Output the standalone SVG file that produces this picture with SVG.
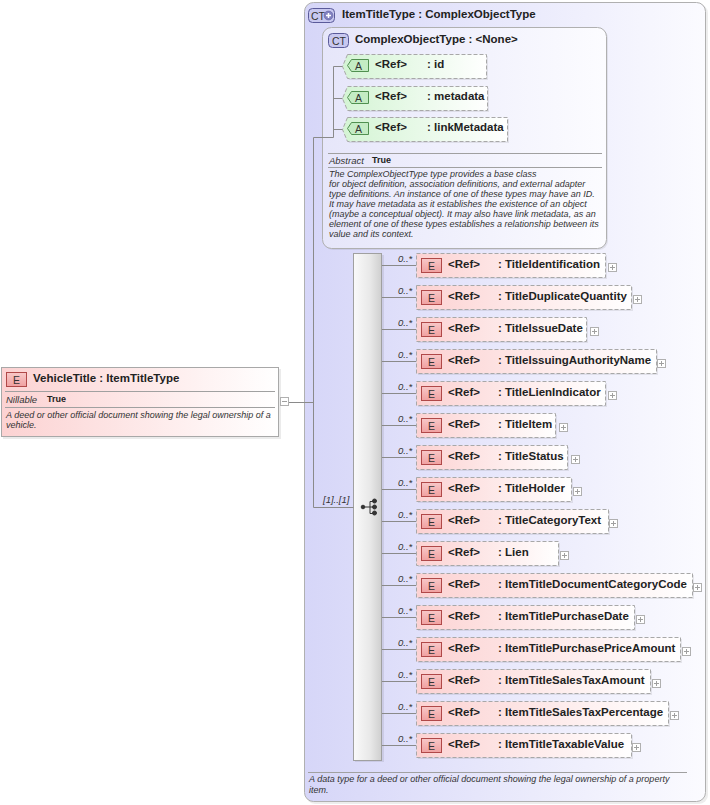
<svg xmlns="http://www.w3.org/2000/svg" width="710" height="805" viewBox="0 0 710 805">
<defs>
<linearGradient id="gOuter" x1="0" y1="0" x2="1" y2="0"><stop offset="0" stop-color="#d6d6f8"/><stop offset="1" stop-color="#fbfbff"/></linearGradient>
<linearGradient id="gInner" x1="0" y1="0" x2="1" y2="0"><stop offset="0" stop-color="#e6e6fa"/><stop offset="1" stop-color="#fcfcff"/></linearGradient>
<linearGradient id="gPink" x1="0" y1="0" x2="1" y2="0"><stop offset="0" stop-color="#fcd2d2"/><stop offset="1" stop-color="#ffffff"/></linearGradient>
<linearGradient id="gGreen" x1="0" y1="0" x2="1" y2="0"><stop offset="0" stop-color="#d4f4d4"/><stop offset="1" stop-color="#ffffff"/></linearGradient>
<linearGradient id="gSeq" x1="0" y1="0" x2="1" y2="0"><stop offset="0" stop-color="#fafafa"/><stop offset="0.6" stop-color="#e8e8e8"/><stop offset="1" stop-color="#cfcfcf"/></linearGradient>
<linearGradient id="gEbadge" x1="0" y1="0" x2="0" y2="1"><stop offset="0" stop-color="#f8c8c8"/><stop offset="1" stop-color="#f0a0a0"/></linearGradient>
</defs>
<style>
text{font-family:"Liberation Sans",Arial,sans-serif;}
.t{font-size:11.5px;font-weight:bold;fill:#222;}
.ref{font-size:11.5px;font-weight:bold;fill:#222;}
.d{font-size:9px;font-style:italic;fill:#333;}
.m{font-size:9.5px;font-style:italic;fill:#333;}
.b{font-size:9px;font-weight:bold;fill:#222;}
.badge{font-size:10.5px;fill:#333;}
.el{fill:url(#gPink);stroke:#a8a8a8;stroke-dasharray:4,2;}
.sh{fill:#000;opacity:0.08;}
.eb{fill:url(#gEbadge);stroke:#b04848;stroke-width:1;}
.ab{fill:#c4ecc4;stroke:#509050;}
.cn{stroke:#8a8a8a;stroke-width:1;fill:none;}
.exp{fill:#fff;stroke:#b0b0b0;}
.expl{stroke:#a0a0a0;}
.sep{stroke:#a0a0a0;}
</style>

<g id="ItemTitleType">
<rect x="306" y="4" width="402" height="800" rx="9" fill="#000" opacity="0.07"/>
<rect x="304.5" y="2.5" width="401" height="799" rx="9" fill="url(#gOuter)" stroke="#b0b0b0"/>
<rect x="308.5" y="8.5" width="26" height="14" rx="4" fill="#c8c8f0" stroke="#5a5a9a"/>
<text x="311" y="19.5" class="badge">CT</text>
<circle cx="328.5" cy="15.5" r="4.5" fill="#8080c0" stroke="#5a5a9a" stroke-width="0.5"/>
<path d="M326 15.5h5M328.5 13v5" stroke="#fff" stroke-width="1.5"/>
<text x="342" y="18" class="t">ItemTitleType : ComplexObjectType</text>
<line x1="308" y1="772.5" x2="687" y2="772.5" class="sep"/>
<text x="309" y="782" class="d">A data type for a deed or other official document showing the legal ownership of a property</text>
<text x="309" y="793" class="d">item.</text>
</g>

<g id="ComplexObjectType">
<rect x="324" y="29" width="284" height="221" rx="9" fill="#000" opacity="0.07"/>
<rect x="322.5" y="27.5" width="284" height="221" rx="9" fill="url(#gInner)" stroke="#b0b0b0"/>
<rect x="328.5" y="33.5" width="20" height="14" rx="4" fill="#c8c8f0" stroke="#5a5a9a"/>
<text x="332" y="44.5" class="badge">CT</text>
<text x="355" y="43" class="t">ComplexObjectType : &lt;None&gt;</text>
<line x1="328" y1="153.5" x2="602" y2="153.5" class="sep"/>
<text x="329" y="164" class="m">Abstract</text>
<text x="372" y="163" class="b">True</text>
<line x1="328" y1="167.5" x2="602" y2="167.5" class="sep"/>
<text class="d">
<tspan x="329" y="177">The ComplexObjectType type provides a base class</tspan>
<tspan x="329" y="187">for object definition, association definitions, and external adapter</tspan>
<tspan x="329" y="197">type definitions. An instance of one of these types may have an ID.</tspan>
<tspan x="329" y="207">It may have metadata as it establishes the existence of an object</tspan>
<tspan x="329" y="217">(maybe a conceptual object). It may also have link metadata, as an</tspan>
<tspan x="329" y="227">element of one of these types establishes a relationship between its</tspan>
<tspan x="329" y="237">value and its context.</tspan>
</text>
</g>

<g id="attr-id">
<polygon points="349,56 488,56 488,80 349,80 344,68" class="sh"/>
<polygon points="347.5,54.5 486.5,54.5 486.5,78.5 347.5,78.5 342.5,66.5" fill="url(#gGreen)" stroke="#a8a8a8" stroke-dasharray="4,2"/>
<path d="M351.5 59.5h17v12h-17l-4-6z" class="ab"/>
<text x="355" y="69.5" class="badge">A</text>
<text x="375" y="68" class="ref">&lt;Ref&gt;</text>
<text x="427" y="68" class="ref">: id</text>
</g>
<g id="attr-metadata">
<polygon points="349,88 489,88 489,112 349,112 344,100" class="sh"/>
<polygon points="347.5,86.5 487.5,86.5 487.5,110.5 347.5,110.5 342.5,98.5" fill="url(#gGreen)" stroke="#a8a8a8" stroke-dasharray="4,2"/>
<path d="M351.5 91.5h17v12h-17l-4-6z" class="ab"/>
<text x="355" y="101.5" class="badge">A</text>
<text x="375" y="100" class="ref">&lt;Ref&gt;</text>
<text x="427" y="100" class="ref">: metadata</text>
</g>
<g id="attr-linkMetadata">
<polygon points="349,119 509,119 509,143 349,143 344,131" class="sh"/>
<polygon points="347.5,117.5 507.5,117.5 507.5,141.5 347.5,141.5 342.5,129.5" fill="url(#gGreen)" stroke="#a8a8a8" stroke-dasharray="4,2"/>
<path d="M351.5 122.5h17v12h-17l-4-6z" class="ab"/>
<text x="355" y="132.5" class="badge">A</text>
<text x="375" y="131" class="ref">&lt;Ref&gt;</text>
<text x="427" y="131" class="ref">: linkMetadata</text>
</g>

<g id="VehicleTitle">
<rect x="3" y="369" width="278" height="70" fill="#000" opacity="0.08"/>
<rect x="1.5" y="367.5" width="277" height="69" fill="url(#gPink)" stroke="#a8a8a8"/>
<rect x="6.5" y="372.5" width="20" height="14" class="eb"/>
<text x="13" y="383.5" class="badge">E</text>
<text x="33" y="382" class="t">VehicleTitle : ItemTitleType</text>
<line x1="5" y1="391.5" x2="275" y2="391.5" class="sep"/>
<text x="6" y="403" class="m">Nillable</text>
<text x="47" y="402" class="b">True</text>
<line x1="5" y1="407.5" x2="275" y2="407.5" class="sep"/>
<text x="6" y="418" class="d">A deed or other official document showing the legal ownership of a</text>
<text x="6" y="428" class="d">vehicle.</text>
<rect x="280.5" y="397.5" width="8" height="8" class="exp"/>
<line x1="282" y1="401.5" x2="287" y2="401.5" class="expl"/>
</g>

<g id="sequence">
<rect x="355" y="255" width="29" height="507" fill="#000" opacity="0.08"/>
<rect x="353.5" y="253.5" width="28" height="507" fill="url(#gSeq)" stroke="#a0a0a0"/>
<g fill="#333" stroke="#333">
<circle cx="363" cy="507" r="1.8"/>
<line x1="363" y1="507" x2="370" y2="507"/>
<path d="M370 501.5v12M370 501.5h4M370 507h4M370 513.5h4" fill="none"/>
<circle cx="374.5" cy="501" r="2"/>
<circle cx="374.5" cy="507" r="2"/>
<circle cx="374.5" cy="513" r="2"/>
</g>
<text x="323" y="503" class="m">[1]..[1]</text>
</g>

<g id="connectors">
<path d="M289 402.5h24.5" class="cn"/>
<path d="M313.5 137.5V507.5" class="cn"/>
<path d="M313.5 137.5h20" class="cn"/>
<path d="M333.5 66.5V137.5" class="cn"/>
<path d="M333.5 66.5h9M333.5 98.5h9M333.5 129.5h9" class="cn"/>
<path d="M313.5 507.5h40" class="cn"/>
<path d="M382 265.5h34M382 297.5h34M382 329.5h34M382 361.5h34M382 393.5h34M382 425.5h34M382 457.5h34M382 489.5h34M382 521.5h34M382 553.5h34M382 585.5h34M382 617.5h34M382 649.5h34M382 681.5h34M382 713.5h34M382 745.5h34" class="cn"/>
</g>

<g id="elements">
<g id="e0" transform="translate(0,265)">
<rect x="418" y="-10" width="189" height="24" class="sh"/><rect x="416.5" y="-11.5" width="189" height="24" class="el"/>
<rect x="421.5" y="-6.5" width="20" height="14" class="eb"/><text x="428" y="4.5" class="badge">E</text>
<text x="448" y="3" class="ref">&lt;Ref&gt;</text><text x="498" y="3" class="ref">: TitleIdentification</text>
<rect x="608.5" y="-1.5" width="8" height="8" class="exp"/><path d="M610 2.5h5M612.5 0v5" class="expl"/>
</g>
<g id="e1" transform="translate(0,297)">
<rect x="418" y="-10" width="215" height="24" class="sh"/><rect x="416.5" y="-11.5" width="215" height="24" class="el"/>
<rect x="421.5" y="-6.5" width="20" height="14" class="eb"/><text x="428" y="4.5" class="badge">E</text>
<text x="448" y="3" class="ref">&lt;Ref&gt;</text><text x="498" y="3" class="ref">: TitleDuplicateQuantity</text>
<rect x="633.5" y="-1.5" width="8" height="8" class="exp"/><path d="M635 2.5h5M637.5 0v5" class="expl"/>
</g>
<g id="e2" transform="translate(0,329)">
<rect x="418" y="-10" width="170" height="24" class="sh"/><rect x="416.5" y="-11.5" width="170" height="24" class="el"/>
<rect x="421.5" y="-6.5" width="20" height="14" class="eb"/><text x="428" y="4.5" class="badge">E</text>
<text x="448" y="3" class="ref">&lt;Ref&gt;</text><text x="498" y="3" class="ref">: TitleIssueDate</text>
<rect x="590.5" y="-1.5" width="8" height="8" class="exp"/><path d="M592 2.5h5M594.5 0v5" class="expl"/>
</g>
<g id="e3" transform="translate(0,361)">
<rect x="418" y="-10" width="240" height="24" class="sh"/><rect x="416.5" y="-11.5" width="240" height="24" class="el"/>
<rect x="421.5" y="-6.5" width="20" height="14" class="eb"/><text x="428" y="4.5" class="badge">E</text>
<text x="448" y="3" class="ref">&lt;Ref&gt;</text><text x="498" y="3" class="ref">: TitleIssuingAuthorityName</text>
<rect x="657.5" y="-1.5" width="8" height="8" class="exp"/><path d="M659 2.5h5M661.5 0v5" class="expl"/>
</g>
<g id="e4" transform="translate(0,393)">
<rect x="418" y="-10" width="189" height="24" class="sh"/><rect x="416.5" y="-11.5" width="189" height="24" class="el"/>
<rect x="421.5" y="-6.5" width="20" height="14" class="eb"/><text x="428" y="4.5" class="badge">E</text>
<text x="448" y="3" class="ref">&lt;Ref&gt;</text><text x="498" y="3" class="ref">: TitleLienIndicator</text>
<rect x="608.5" y="-1.5" width="8" height="8" class="exp"/><path d="M610 2.5h5M612.5 0v5" class="expl"/>
</g>
<g id="e5" transform="translate(0,425)">
<rect x="418" y="-10" width="139" height="24" class="sh"/><rect x="416.5" y="-11.5" width="139" height="24" class="el"/>
<rect x="421.5" y="-6.5" width="20" height="14" class="eb"/><text x="428" y="4.5" class="badge">E</text>
<text x="448" y="3" class="ref">&lt;Ref&gt;</text><text x="498" y="3" class="ref">: TitleItem</text>
<rect x="559.5" y="-1.5" width="8" height="8" class="exp"/><path d="M561 2.5h5M563.5 0v5" class="expl"/>
</g>
<g id="e6" transform="translate(0,457)">
<rect x="418" y="-10" width="151" height="24" class="sh"/><rect x="416.5" y="-11.5" width="151" height="24" class="el"/>
<rect x="421.5" y="-6.5" width="20" height="14" class="eb"/><text x="428" y="4.5" class="badge">E</text>
<text x="448" y="3" class="ref">&lt;Ref&gt;</text><text x="498" y="3" class="ref">: TitleStatus</text>
<rect x="571.5" y="-1.5" width="8" height="8" class="exp"/><path d="M573 2.5h5M575.5 0v5" class="expl"/>
</g>
<g id="e7" transform="translate(0,489)">
<rect x="418" y="-10" width="155" height="24" class="sh"/><rect x="416.5" y="-11.5" width="155" height="24" class="el"/>
<rect x="421.5" y="-6.5" width="20" height="14" class="eb"/><text x="428" y="4.5" class="badge">E</text>
<text x="448" y="3" class="ref">&lt;Ref&gt;</text><text x="498" y="3" class="ref">: TitleHolder</text>
<rect x="573.5" y="-1.5" width="8" height="8" class="exp"/><path d="M575 2.5h5M577.5 0v5" class="expl"/>
</g>
<g id="e8" transform="translate(0,521)">
<rect x="418" y="-10" width="192" height="24" class="sh"/><rect x="416.5" y="-11.5" width="192" height="24" class="el"/>
<rect x="421.5" y="-6.5" width="20" height="14" class="eb"/><text x="428" y="4.5" class="badge">E</text>
<text x="448" y="3" class="ref">&lt;Ref&gt;</text><text x="498" y="3" class="ref">: TitleCategoryText</text>
<rect x="609.5" y="-1.5" width="8" height="8" class="exp"/><path d="M611 2.5h5M613.5 0v5" class="expl"/>
</g>
<g id="e9" transform="translate(0,553)">
<rect x="418" y="-10" width="142" height="24" class="sh"/><rect x="416.5" y="-11.5" width="142" height="24" class="el"/>
<rect x="421.5" y="-6.5" width="20" height="14" class="eb"/><text x="428" y="4.5" class="badge">E</text>
<text x="448" y="3" class="ref">&lt;Ref&gt;</text><text x="498" y="3" class="ref">: Lien</text>
<rect x="560.5" y="-1.5" width="8" height="8" class="exp"/><path d="M562 2.5h5M564.5 0v5" class="expl"/>
</g>
<g id="e10" transform="translate(0,585)">
<rect x="418" y="-10" width="276" height="24" class="sh"/><rect x="416.5" y="-11.5" width="276" height="24" class="el"/>
<rect x="421.5" y="-6.5" width="20" height="14" class="eb"/><text x="428" y="4.5" class="badge">E</text>
<text x="448" y="3" class="ref">&lt;Ref&gt;</text><text x="498" y="3" class="ref">: ItemTitleDocumentCategoryCode</text>
<rect x="693.5" y="-1.5" width="8" height="8" class="exp"/><path d="M695 2.5h5M697.5 0v5" class="expl"/>
</g>
<g id="e11" transform="translate(0,617)">
<rect x="418" y="-10" width="218" height="24" class="sh"/><rect x="416.5" y="-11.5" width="218" height="24" class="el"/>
<rect x="421.5" y="-6.5" width="20" height="14" class="eb"/><text x="428" y="4.5" class="badge">E</text>
<text x="448" y="3" class="ref">&lt;Ref&gt;</text><text x="498" y="3" class="ref">: ItemTitlePurchaseDate</text>
<rect x="636.5" y="-1.5" width="8" height="8" class="exp"/><path d="M638 2.5h5M640.5 0v5" class="expl"/>
</g>
<g id="e12" transform="translate(0,649)">
<rect x="418" y="-10" width="264" height="24" class="sh"/><rect x="416.5" y="-11.5" width="264" height="24" class="el"/>
<rect x="421.5" y="-6.5" width="20" height="14" class="eb"/><text x="428" y="4.5" class="badge">E</text>
<text x="448" y="3" class="ref">&lt;Ref&gt;</text><text x="498" y="3" class="ref">: ItemTitlePurchasePriceAmount</text>
<rect x="682.5" y="-1.5" width="8" height="8" class="exp"/><path d="M684 2.5h5M686.5 0v5" class="expl"/>
</g>
<g id="e13" transform="translate(0,681)">
<rect x="418" y="-10" width="234" height="24" class="sh"/><rect x="416.5" y="-11.5" width="234" height="24" class="el"/>
<rect x="421.5" y="-6.5" width="20" height="14" class="eb"/><text x="428" y="4.5" class="badge">E</text>
<text x="448" y="3" class="ref">&lt;Ref&gt;</text><text x="498" y="3" class="ref">: ItemTitleSalesTaxAmount</text>
<rect x="652.5" y="-1.5" width="8" height="8" class="exp"/><path d="M654 2.5h5M656.5 0v5" class="expl"/>
</g>
<g id="e14" transform="translate(0,713)">
<rect x="418" y="-10" width="252" height="24" class="sh"/><rect x="416.5" y="-11.5" width="252" height="24" class="el"/>
<rect x="421.5" y="-6.5" width="20" height="14" class="eb"/><text x="428" y="4.5" class="badge">E</text>
<text x="448" y="3" class="ref">&lt;Ref&gt;</text><text x="498" y="3" class="ref">: ItemTitleSalesTaxPercentage</text>
<rect x="670.5" y="-1.5" width="8" height="8" class="exp"/><path d="M672 2.5h5M674.5 0v5" class="expl"/>
</g>
<g id="e15" transform="translate(0,745)">
<rect x="418" y="-10" width="215" height="24" class="sh"/><rect x="416.5" y="-11.5" width="215" height="24" class="el"/>
<rect x="421.5" y="-6.5" width="20" height="14" class="eb"/><text x="428" y="4.5" class="badge">E</text>
<text x="448" y="3" class="ref">&lt;Ref&gt;</text><text x="498" y="3" class="ref">: ItemTitleTaxableValue</text>
<rect x="632.5" y="-1.5" width="8" height="8" class="exp"/><path d="M634 2.5h5M636.5 0v5" class="expl"/>
</g>
</g>

<g id="multiplicities" class="m">
<text x="398" y="262" class="m">0..*</text>
<text x="398" y="294" class="m">0..*</text>
<text x="398" y="326" class="m">0..*</text>
<text x="398" y="358" class="m">0..*</text>
<text x="398" y="390" class="m">0..*</text>
<text x="398" y="422" class="m">0..*</text>
<text x="398" y="454" class="m">0..*</text>
<text x="398" y="486" class="m">0..*</text>
<text x="398" y="518" class="m">0..*</text>
<text x="398" y="550" class="m">0..*</text>
<text x="398" y="582" class="m">0..*</text>
<text x="398" y="614" class="m">0..*</text>
<text x="398" y="646" class="m">0..*</text>
<text x="398" y="678" class="m">0..*</text>
<text x="398" y="710" class="m">0..*</text>
<text x="398" y="742" class="m">0..*</text>
</g>
</svg>
